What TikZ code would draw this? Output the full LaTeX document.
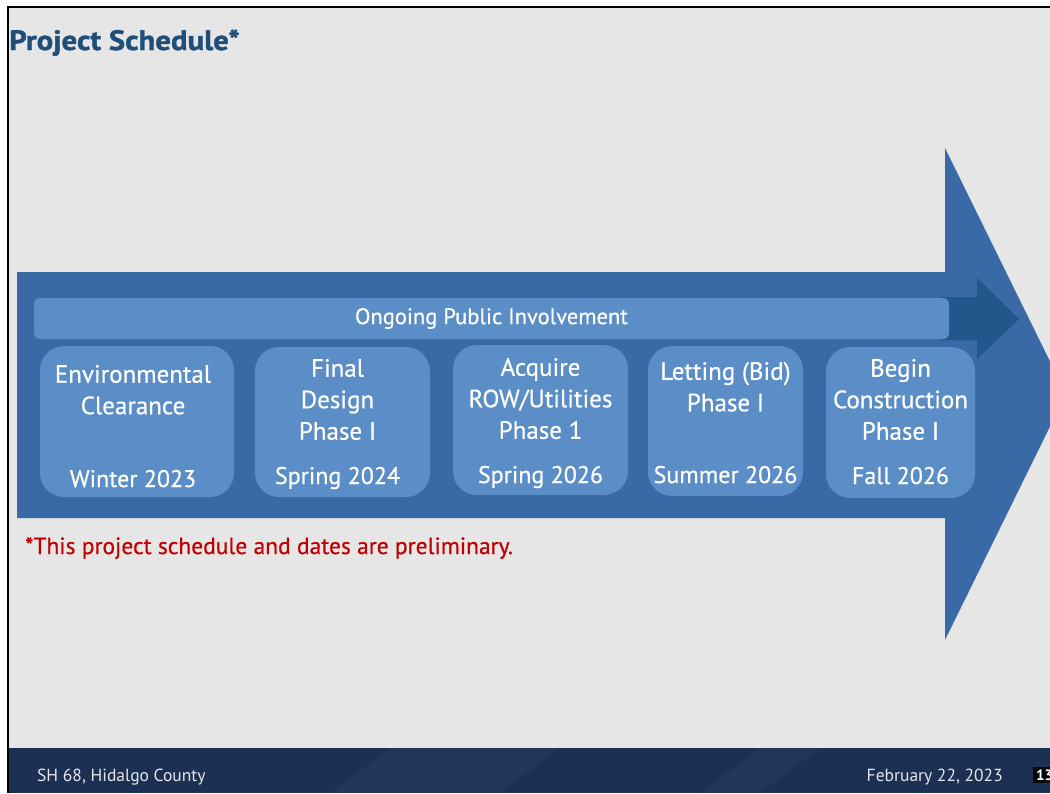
\documentclass[tikz,border=0pt]{standalone}
\usepackage{fontspec}
\setmainfont{PT Sans}
\newfontfamily\titlefont[FakeStretch=1.1, FakeBold=1.2]{PT Sans Bold}
\newfontfamily\medfont[FakeBold=0.5]{PT Sans}
\usetikzlibrary{positioning}

\definecolor{slidegray}{HTML}{E6E6E6}
\definecolor{arrowblue}{HTML}{3A6AA5}
\definecolor{boxblue}{HTML}{5B8DC7}
\definecolor{darkarrow}{HTML}{22578B}
\definecolor{titleblue}{HTML}{1F4E79}
\definecolor{footnavy}{HTML}{1B3052}
\definecolor{notered}{HTML}{C00000}

\tikzset{
  phasebox/.style={fill=boxblue, rounded corners=24pt, inner sep=0pt},
  phasetext/.style={text=white, align=center, inner sep=0pt, font=\medfont\fontsize{25}{31.5}\selectfont},
  datetext/.style={text=white, inner sep=0pt, text depth=0pt, font=\medfont\fontsize{24}{28}\selectfont},
  foottext/.style={inner sep=0pt, text=white!88!footnavy, font=\fontsize{17.5}{19}\selectfont},
}

\begin{document}
\begin{tikzpicture}[x=1pt, y=-1pt]
\useasboundingbox (0,0) rectangle (1050,793);
\clip (0,0) rectangle (1050,793);

% slide background
\fill[white] (0,0) rectangle (1050,793);
\fill[slidegray] (8,7) rectangle (1050,793);
\draw[line width=2pt] (8,793) -- (8,7) -- (1050,7);

% title
\node[anchor=base west, inner sep=0pt, text=titleblue, font=\titlefont\fontsize{28}{30}\selectfont] (title) at (9,50) {Project Schedule*};

% big arrow
\fill[arrowblue] (17,272) -- (945,272) -- (945,148) -- (1066,394) -- (945,640) -- (945,518) -- (17,518) -- cycle;

% small arrow behind the bar
\fill[darkarrow] (940,297) -- (977,297) -- (977,278) -- (1019,319) -- (977,359) -- (977,340) -- (940,340) -- cycle;

% public involvement bar
\node[fill=boxblue, rounded corners=6pt, minimum width=915pt, minimum height=41pt, inner sep=0pt,
      text=white, font=\medfont\fontsize{22.5}{24}\selectfont] (pi) at (491.5,318.5) {Ongoing Public Involvement};

% phase boxes
\node[phasebox, minimum width=194pt, minimum height=151pt] (env) at (137,421.5) {};
\node[phasebox, minimum width=175pt, minimum height=150pt] (design) at (342.5,422) {};
\node[phasebox, minimum width=175pt, minimum height=150pt] (row) at (540.5,420) {};
\node[phasebox, minimum width=155pt, minimum height=150pt] (letting) at (725.5,421) {};
\node[phasebox, minimum width=149pt, minimum height=151pt] (constr) at (900.5,422.5) {};

% box texts
\node[phasetext, below=19pt of env.north, xshift=-4pt] (envT) {Environmental\\Clearance};
\node[datetext, above=10pt of env.south, xshift=-4pt] (envD) {Winter 2023};
\node[phasetext, below=12pt of design.north, xshift=-5pt] (designT) {Final\\Design\\Phase I};
\node[datetext, above=13pt of design.south, xshift=-5pt] (designD) {Spring 2024};
\node[phasetext, below=13pt of row.north] (rowT) {Acquire\\ROW/Utilities\\Phase 1};
\node[datetext, above=12pt of row.south] (rowD) {Spring 2026};
\node[phasetext, below=16pt of letting.north] (lettingT) {Letting (Bid)\\Phase I};
\node[datetext, above=13pt of letting.south] (lettingD) {Summer 2026};
\node[phasetext, below=12pt of constr.north] (constrT) {Begin\\Construction\\Phase I};
\node[datetext, above=14pt of constr.south] (constrD) {Fall 2026};

% note
\node[anchor=base west, inner sep=0pt, text=notered, font=\medfont\fontsize{23.5}{26}\selectfont] (note) at (25,554) {*This project schedule and dates are preliminary.};

% footer
\fill[footnavy] (9,748) rectangle (1050,793);
\fill[white, opacity=0.03] (330,793) -- (390,748) -- (560,748) -- (500,793) -- cycle;
\fill[white, opacity=0.03] (700,793) -- (760,748) -- (820,748) -- (760,793) -- cycle;
\node[foottext, anchor=base west] (place) at (37,781) {SH 68, Hidalgo County};
\node[foottext, anchor=base east] (day) at (1003,781) {February 22, 2023};
\node[anchor=west, fill=black!90!footnavy, text=white, inner sep=3pt, font=\fontsize{15}{17}\selectfont\bfseries] (page) at (1033,775) {13};
\end{tikzpicture}
\end{document}
